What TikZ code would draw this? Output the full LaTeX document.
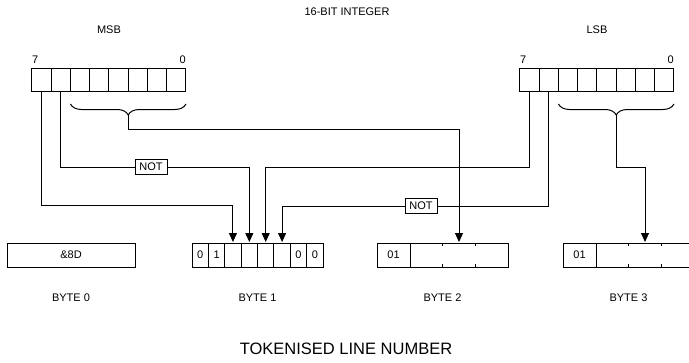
\documentclass[tikz,border=0pt]{standalone}
\usepackage{fontspec}
\setmainfont{Liberation Sans}
\usetikzlibrary{arrows.meta,positioning,decorations.pathreplacing,calc}
\tikzset{
  cell/.style={rectangle, draw=black, line width=1pt, inner sep=0pt, outer sep=0pt,
               minimum height=23pt, font=\fontsize{11}{13}\selectfont},
  bytebox/.style={cell, minimum height=24pt},
  lbl/.style={font=\fontsize{11}{13}\selectfont, inner sep=1pt},
  notgate/.style={rectangle, draw=black, line width=1pt, fill=white, inner sep=1.5pt,
                  minimum width=32pt, minimum height=15pt, font=\fontsize{11}{13}\selectfont},
  ar/.style={-{Triangle[length=9pt,width=8pt]}, line width=1pt, shorten >=1pt},
  wire/.style={line width=1pt},
  brc/.style={decorate, decoration={brace, mirror, amplitude=11pt}, line width=1pt},
  tick/.style={line width=1pt}
}
\begin{document}
\begin{tikzpicture}[x=1pt, y=-1pt]
\clip (0,0) rectangle (689,362);

\node[lbl] (title) at (347,12) {16-BIT INTEGER};
\node[lbl] (msbl) at (109,30) {MSB};
\node[lbl] (lsbl) at (597,30) {LSB};

% the two halves of the integer, bit 7 on the left
\foreach \b [count=\i from 0] in {7,6,5,4,3,2,1,0} {
  \node[cell, minimum width=19.25pt] (msb\b) at (41.6+19.25*\i,79.5) {};
  \node[cell, minimum width=19.25pt] (lsb\b) at (529.6+19.25*\i,79.5) {};
}
\node[lbl, anchor=south west, inner sep=0pt] (m7n) at ([yshift=4pt]msb7.north west) {7};
\node[lbl, anchor=south east, inner sep=0pt] (m0n) at ([yshift=4pt]msb0.north east) {0};
\node[lbl, anchor=south west, inner sep=0pt] (l7n) at ([yshift=4pt]lsb7.north west) {7};
\node[lbl, anchor=south east, inner sep=0pt] (l0n) at ([yshift=4pt]lsb0.north east) {0};

% the four bytes
\node[bytebox, minimum width=128pt] (byte0) at (71,255) {\&8D};
\foreach \t [count=\i from 0] in {0,1,{},{},{},{},0,0}
  \node[bytebox, minimum width=16.375pt] (b1c\i) at (200.2+16.375*\i,255) {\t};
\node[bytebox, minimum width=33pt] (b2a) at (393.5,255) {01};
\node[bytebox, minimum width=98pt, right=0pt of b2a] (b2b) {};
\node[bytebox, minimum width=33pt] (b3a) at (579.5,255) {01};
\node[bytebox, minimum width=98pt, right=0pt of b3a] (b3b) {};
\foreach \bx in {b2b,b3b}
  \foreach \f in {1,2} {
    \draw[tick] ($(\bx.north west)!\f/3!(\bx.north east)$) -- ++(0,3);
    \draw[tick] ($(\bx.south west)!\f/3!(\bx.south east)$) -- ++(0,-3);
  }

\node[lbl] (byl0) at (71,298) {BYTE 0};
\node[lbl] (byl1) at (257.5,298) {BYTE 1};
\node[lbl] (byl2) at (442.5,298) {BYTE 2};
\node[lbl] (byl3) at (628.5,298) {BYTE 3};
\node[font=\fontsize{16.5}{19}\selectfont] (caption) at (346,349) {TOKENISED LINE NUMBER};

% routing levels
\coordinate (railhi) at (0,129);
\coordinate (railmid) at (0,167);
\coordinate (raillo) at (0,205);

\node[notgate] (not1) at (151,167) {NOT};
\node[notgate] (not2) at (421,206) {NOT};

\draw[ar] (msb7.south) -- (msb7.south |- raillo) -| (b1c2.north);
\draw[wire] (msb6.south) |- (not1.west);
\draw[ar] (not1.east) -| (b1c3.north);
\draw[ar] (lsb7.south) -- (lsb7.south |- railmid) -| (b1c4.north);
\draw[wire] (lsb6.south) |- (not2.east);
\draw[ar] (not2.west) -| (b1c5.north);

% low six bits of each half
\draw[brc] ([yshift=-13pt]msb5.south west) -- ([yshift=-13pt]msb0.south east);
\coordinate (mtip) at ([yshift=-24pt]$(msb5.south west)!0.5!(msb0.south east)$);
\draw[ar] (mtip) -- (mtip |- railhi) -| (b2b.north);
\draw[brc] ([yshift=-13pt]lsb5.south west) -- ([yshift=-13pt]lsb0.south east);
\coordinate (ltip) at ([yshift=-24pt]$(lsb5.south west)!0.5!(lsb0.south east)$);
\draw[ar] (ltip) -- (ltip |- railmid) -| (b3b.north);
\end{tikzpicture}
\end{document}
